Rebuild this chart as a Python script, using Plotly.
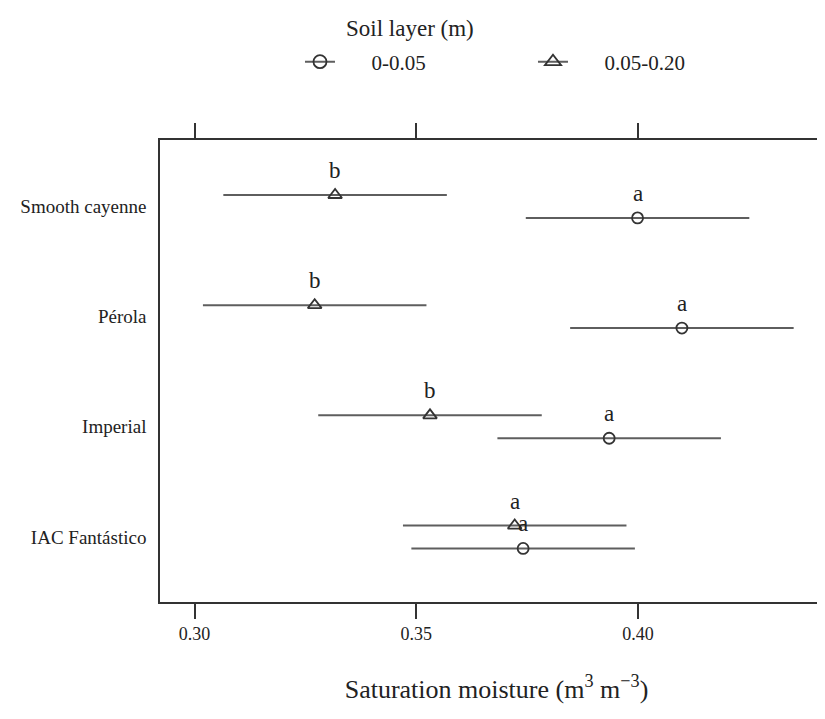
import plotly.graph_objects as go

categories = ["Smooth cayenne", "Pérola", "Imperial", "IAC Fantástico"]
cat_pos = [4, 3, 2, 1]

# layer 0-0.05 (circles)
mean_0_005 = [0.3999, 0.4099, 0.3935, 0.3741]
ci_0_005 = [0.0252, 0.0252, 0.0252, 0.0252]
letters_0_005 = ["a", "a", "a", "a"]

# layer 0.05-0.20 (triangles)
mean_005_020 = [0.3317, 0.3271, 0.3531, 0.3722]
ci_005_020 = [0.0252, 0.0252, 0.0252, 0.0252]
letters_005_020 = ["b", "b", "b", "a"]

series_names = ["0-0.05", "0.05-0.20"]
legend_title = "Soil layer (m)"
x_ticks = [0.30, 0.35, 0.40]

off = 0.104
FONT = "Liberation Serif, 'Times New Roman', Times, serif"
LINE = "#5e5e5e"
MK = "#333333"
PAD = "\u2003\u2002"

fig = go.Figure()

y_circ = [p - off for p in cat_pos]
y_tri = [p + off for p in cat_pos]

for name, means, cis, ys, sym, sz in [
    (series_names[0], mean_0_005, ci_0_005, y_circ, "circle-open", 11),
    (series_names[1], mean_005_020, ci_005_020, y_tri, "triangle-up-open", 12),
]:
    fig.add_trace(go.Scatter(
        x=means, y=ys, mode="markers", showlegend=False,
        marker=dict(symbol=sym, size=sz, color=MK, line=dict(width=1.8, color=MK)),
        error_x=dict(type="data", array=cis, color=LINE, thickness=2, width=0),
    ))
    fig.add_trace(go.Scatter(
        x=[None], y=[None], mode="lines+markers", name=PAD + name,
        line=dict(color=LINE, width=2),
        marker=dict(symbol=sym, size=sz + 2, color=MK, line=dict(width=1.8, color=MK)),
    ))

annotations = []
for means, ys, letters in [(mean_0_005, y_circ, letters_0_005), (mean_005_020, y_tri, letters_005_020)]:
    for m, yy, t in zip(means, ys, letters):
        annotations.append(dict(x=m, y=yy, text=t, showarrow=False, yanchor="bottom",
                                yshift=10, font=dict(family=FONT, size=23, color="#222")))

annotations.append(dict(text=legend_title, xref="paper", yref="paper", x=0.371, y=1.2424,
                        xanchor="center", yanchor="middle", showarrow=False,
                        font=dict(family=FONT, size=23, color="#222")))

fig.update_layout(
    width=825, height=719,
    margin=dict(l=152, r=0, t=132, b=125, autoexpand=False),
    paper_bgcolor="white", plot_bgcolor="white",
    font=dict(family=FONT, color="#222"),
    annotations=annotations,
    showlegend=True,
    legend=dict(
        orientation="h", x=0.208, xanchor="left", y=1.1688, yanchor="middle",
        font=dict(family=FONT, size=21), entrywidth=188, bgcolor="rgba(0,0,0,0)",
    ),
    xaxis=dict(
        range=[0.29222, 0.44397], tickvals=x_ticks, ticktext=[f"{v:.2f}" for v in x_ticks],
        ticks="outside", ticklen=15, tickwidth=1.5, tickcolor="#333",
        showline=True, linecolor="#333", linewidth=1.5, mirror="ticks",
        showgrid=False, zeroline=False, automargin=False,
        tickfont=dict(family=FONT, size=18),
        title=dict(text="Saturation moisture (m<sup>3</sup> m<sup>−3</sup>)",
                   font=dict(family=FONT, size=26), standoff=36),
    ),
    yaxis=dict(
        range=[0.41, 4.603], tickvals=cat_pos, ticktext=categories,
        ticks="", showline=True, linecolor="#333", linewidth=1.5,
        showgrid=False, zeroline=False, ticklabelstandoff=8, automargin=False,
        tickfont=dict(family=FONT, size=19),
    ),
)

fig.write_html("out.html")
